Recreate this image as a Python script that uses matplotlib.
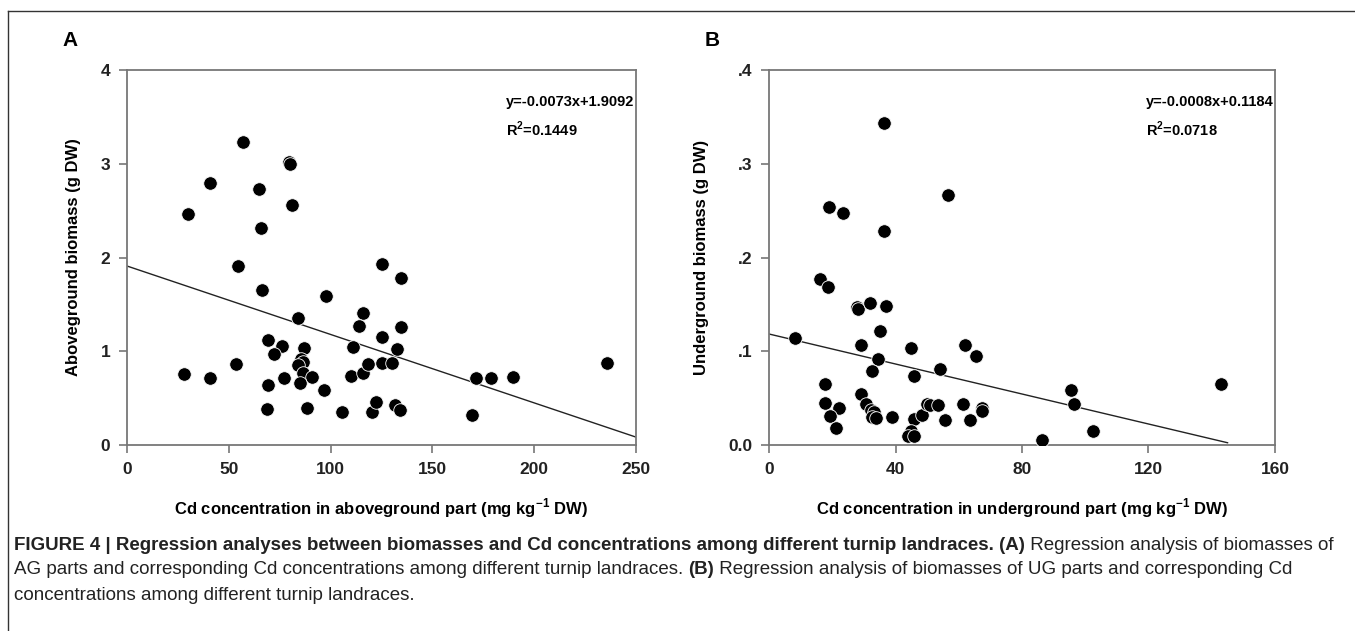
import matplotlib.pyplot as plt
import numpy as np
from matplotlib.lines import Line2D

# data
ag_cd = [57.2, 79.5, 80.0, 41.0, 65.0, 80.8, 30.0, 65.7, 54.5, 125.4,
         66.2, 97.7, 115.8, 114.0, 125.0, 84.2, 69.1, 76.3, 86.8, 111.2,
         72.4, 85.7, 86.2, 84.0, 86.3, 53.5, 27.8, 41.0, 76.9, 91.0,
         69.1, 84.9, 96.7, 109.8, 115.8, 118.4, 125.4, 130.0, 68.6, 88.5,
         105.7, 120.3, 122.5, 131.5, 134.1, 134.8, 134.8, 132.8, 169.3, 171.5,
         179.0, 189.6, 235.6]
ag_bio = [3.23, 3.02, 3.00, 2.79, 2.73, 2.56, 2.46, 2.32, 1.91, 1.93,
          1.65, 1.59, 1.41, 1.27, 1.15, 1.35, 1.12, 1.06, 1.04, 1.05,
          0.97, 0.915, 0.886, 0.85, 0.77, 0.86, 0.755, 0.72, 0.71, 0.73,
          0.64, 0.66, 0.59, 0.74, 0.77, 0.86, 0.87, 0.87, 0.38, 0.40,
          0.35, 0.355, 0.46, 0.43, 0.37, 1.78, 1.26, 1.02, 0.32, 0.72,
          0.72, 0.73, 0.87]

ug_cd = [36.5, 56.5, 19.1, 23.5, 36.5, 16.0, 18.8, 27.8, 28.0, 31.9,
         36.9, 35.1, 8.2, 29.2, 44.8, 34.6, 32.5, 45.7, 54.2, 62.0,
         65.6, 17.8, 29.2, 17.7, 22.1, 19.2, 21.1, 30.8, 32.2, 33.3,
         32.7, 33.8, 39.0, 45.9, 48.5, 49.9, 51.0, 53.4, 44.8, 43.8,
         45.8, 55.7, 61.2, 63.7, 67.2, 67.5, 95.5, 96.5, 102.4, 86.4,
         142.8]
ug_bio = [0.343, 0.267, 0.2535, 0.248, 0.228, 0.1766, 0.169, 0.147, 0.145, 0.151,
          0.1486, 0.1216, 0.114, 0.107, 0.1035, 0.092, 0.0787, 0.0734, 0.0816, 0.1064,
          0.0947, 0.065, 0.054, 0.045, 0.0397, 0.0312, 0.0177, 0.0433, 0.037, 0.0355,
          0.030, 0.029, 0.0294, 0.0277, 0.0316, 0.044, 0.0425, 0.0425, 0.0152, 0.0096,
          0.0099, 0.0262, 0.044, 0.0266, 0.039, 0.0365, 0.0585, 0.0433, 0.0152, 0.0053,
          0.0656]

fit_a = (-0.0073, 1.9092)
fit_b = (-0.0008, 0.1184)

plt.rcParams['font.family'] = ['Liberation Sans', 'DejaVu Sans']
plt.rcParams['mathtext.fontset'] = 'custom'
plt.rcParams['mathtext.rm'] = 'Liberation Sans'
plt.rcParams['mathtext.bf'] = 'Liberation Sans:bold'

fig = plt.figure(figsize=(13.55, 6.31), dpi=100)
W, H = 1355, 631

def px_axes(x0, y0, x1, y1):
    return fig.add_axes([x0 / W, 1 - y1 / H, (x1 - x0) / W, (y1 - y0) / H])

ax_a = px_axes(127, 70, 636, 445)
ax_b = px_axes(769, 70, 1275, 445)

grey = '#777777'

def style(ax):
    for s in ax.spines.values():
        s.set_color(grey)
        s.set_linewidth(1.3)
    ax.tick_params(direction='out', length=6, width=1.2, color=grey,
                   labelsize=12.5, pad=6)
    for lab in ax.get_xticklabels() + ax.get_yticklabels():
        lab.set_fontweight('bold')
        lab.set_color('#222222')

# panel A
ax_a.scatter(ag_cd, ag_bio, s=95, color='black', edgecolor='white', linewidth=0.6, zorder=3)
xa = np.array([0, 250])
ax_a.plot(xa, fit_a[0] * xa + fit_a[1], color='#222222', linewidth=1.0)
ax_a.set_xlim(0, 250)
ax_a.set_ylim(0, 4)
ax_a.set_xticks([0, 50, 100, 150, 200, 250])
ax_a.set_yticks([0, 1, 2, 3, 4])
style(ax_a)
ax_a.set_xlabel('Cd concentration in aboveground part (mg kg$^{\\mathbf{-1}}$ DW)',
                fontsize=12, fontweight='bold', labelpad=14)
ax_a.set_ylabel('Aboveground biomass (g DW)', fontsize=12, fontweight='bold', labelpad=14)
ax_a.text(0.745, 0.915, 'y=-0.0073x+1.9092', transform=ax_a.transAxes,
          fontsize=10.5, fontweight='bold', va='center')
ax_a.text(0.745, 0.842, 'R$^{\\mathbf{2}}$=0.1449', transform=ax_a.transAxes,
          fontsize=10.5, fontweight='bold', va='center')

# panel B
ax_b.scatter(ug_cd, ug_bio, s=95, color='black', edgecolor='white', linewidth=0.6, zorder=3)
xb = np.array([0, 145])
ax_b.plot(xb, fit_b[0] * xb + fit_b[1], color='#222222', linewidth=1.0)
ax_b.set_xlim(0, 160)
ax_b.set_ylim(0, 0.4)
ax_b.set_xticks([0, 40, 80, 120, 160])
ax_b.set_yticks([0, 0.1, 0.2, 0.3, 0.4])
ax_b.set_yticklabels(['0.0', '.1', '.2', '.3', '.4'])
style(ax_b)
ax_b.set_xlabel('Cd concentration in underground part (mg kg$^{\\mathbf{-1}}$ DW)',
                fontsize=12, fontweight='bold', labelpad=14)
ax_b.set_ylabel('Underground biomass (g DW)', fontsize=12, fontweight='bold', labelpad=14)
ax_b.text(0.745, 0.915, 'y=-0.0008x+0.1184', transform=ax_b.transAxes,
          fontsize=10.5, fontweight='bold', va='center')
ax_b.text(0.745, 0.842, 'R$^{\\mathbf{2}}$=0.0718', transform=ax_b.transAxes,
          fontsize=10.5, fontweight='bold', va='center')

# panel letters
fig.text(62 / W, 1 - 41 / H, 'A', fontsize=15, fontweight='bold', va='center')
fig.text(705 / W, 1 - 41 / H, 'B', fontsize=15, fontweight='bold', va='center')

# figure frame (left and top)
fig.add_artist(Line2D([8 / W, 8 / W], [0, 1 - 11 / H], color='#333333', linewidth=1.0))
fig.add_artist(Line2D([8 / W, 1], [1 - 11 / H, 1 - 11 / H], color='#333333', linewidth=1.0))

# caption, mixing bold and regular runs
cap_lines = [
    [('FIGURE 4 | Regression analyses between biomasses and Cd concentrations among different turnip landraces. (A)', 'bold'),
     (' Regression analysis of biomasses of', 'normal')],
    [('AG parts and corresponding Cd concentrations among different turnip landraces. ', 'normal'),
     ('(B)', 'bold'),
     (' Regression analysis of biomasses of UG parts and corresponding Cd', 'normal')],
    [('concentrations among different turnip landraces.', 'normal')],
]
cap_y = [546, 570, 595]
renderer = fig.canvas.get_renderer()
for runs, yy in zip(cap_lines, cap_y):
    x = 14 / W
    for txt, wt in runs:
        t = fig.text(x, 1 - yy / H, txt, fontsize=13.5, fontweight=wt,
                     va='center', color='#222222')
        bb = t.get_window_extent(renderer)
        x = bb.x1 / W

fig.savefig('out.png', dpi=100)
